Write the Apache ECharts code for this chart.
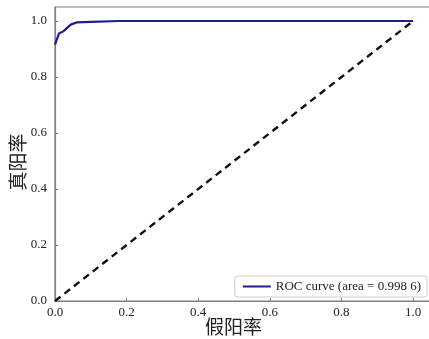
<!DOCTYPE html>
<html>
<head>
<meta charset="utf-8">
<script src="https://cdn.jsdelivr.net/npm/echarts@6/dist/echarts.min.js"></script>
<style>
  html, body { margin: 0; padding: 0; background: #fff; }
  #chart { width: 429px; height: 339px; }
</style>
</head>
<body>
<div id="chart"></div>
<script>
// ROC 曲线数据 (假阳率, 真阳率)
var fprValues = [0.0, 0.011, 0.023, 0.044, 0.06, 0.1, 0.18, 0.5, 1.0];
var tprValues = [0.916, 0.955, 0.963, 0.987, 0.995, 0.997, 1.0, 1.0, 1.0];
var diagX = [0.0, 1.0];
var diagY = [0.0, 1.0];
var tickLabels = ['0.0', '0.2', '0.4', '0.6', '0.8', '1.0'];
var rocName = 'ROC curve (area = 0.998 6)';

var serif = '"Liberation Serif", "DejaVu Serif", serif';
var cjk = '"Noto Sans CJK SC", sans-serif';

function pairs(xs, ys) {
  return xs.map(function (x, i) { return [x, ys[i]]; });
}

var chart = echarts.init(document.getElementById('chart'), null, { renderer: 'canvas' });

var axisCommon = {
  type: 'value',
  min: 0,
  max: 1.05,
  interval: 0.2,
  splitLine: { show: false },
  axisLine: { show: true, lineStyle: { color: '#808080', width: 1.2 } },
  axisTick: { show: true, inside: true, length: 3, lineStyle: { color: '#808080' } },
  axisLabel: {
    color: '#222',
    fontFamily: serif,
    fontSize: 13,
    showMaxLabel: false,
    formatter: function (v) {
      var i = Math.round(v / 0.2);
      return tickLabels[i] !== undefined && Math.abs(v - i * 0.2) < 1e-6 ? tickLabels[i] : '';
    }
  }
};

var option = {
  animation: false,
  backgroundColor: '#fff',
  grid: {
    left: 55, right: -2, top: 7, bottom: 38,
    outerBoundsMode: 'none',
    containLabel: false,
    show: true, borderColor: '#808080', borderWidth: 1.2
  },
  legend: {
    right: 2,
    bottom: 42,
    data: [rocName],
    itemWidth: 28,
    itemHeight: 10,
    icon: 'path://M0,4 L28,4 L28,6 L0,6 Z',
    backgroundColor: '#fff',
    borderColor: '#cccccc',
    borderWidth: 1,
    borderRadius: 3,
    padding: [4, 6, 4, 8],
    textStyle: { fontFamily: serif, fontSize: 13, color: '#222' }
  },
  xAxis: Object.assign({}, axisCommon, {
    name: '假阳率',
    nameLocation: 'middle',
    nameGap: 16,
    nameMoveOverlap: false,
    nameTextStyle: { fontFamily: cjk, fontSize: 19, color: '#222', padding: [0, 19, 0, 0] },
    axisLabel: Object.assign({}, axisCommon.axisLabel, { margin: 5 })
  }),
  yAxis: Object.assign({}, axisCommon, {
    name: '真阳率',
    nameLocation: 'middle',
    nameGap: 28,
    nameMoveOverlap: false,
    nameTextStyle: { fontFamily: cjk, fontSize: 19, color: '#222', padding: [0, 16, 0, 0] },
    axisLabel: Object.assign({}, axisCommon.axisLabel, { margin: 8 })
  }),
  series: [
    {
      name: rocName,
      type: 'line',
      data: pairs(fprValues, tprValues),
      showSymbol: false,
      symbol: 'none',
      lineStyle: { color: '#1f1f8f', width: 2.2 },
      itemStyle: { color: '#1f1f8f' },
      z: 3
    },
    {
      name: 'diag',
      type: 'line',
      data: pairs(diagX, diagY),
      showSymbol: false,
      symbol: 'none',
      lineStyle: { color: '#111', width: 2.4, type: [7, 5] },
      z: 2
    }
  ]
};

chart.setOption(option);
</script>
</body>
</html>
